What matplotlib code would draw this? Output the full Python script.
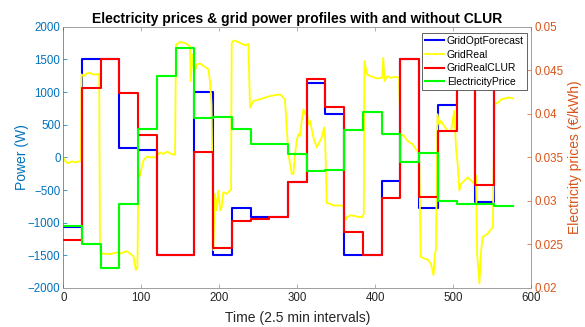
import numpy as np
import matplotlib
matplotlib.use('Agg')
import matplotlib.pyplot as plt
from matplotlib.ticker import FormatStrFormatter

plt.rcParams['font.family'] = ['Liberation Sans', 'DejaVu Sans']

# hourly values (24 steps of 24 x 2.5 min)
hour_edges = np.arange(0, 577, 24)
grid_opt_forecast = [-1060, 1500, 1500, 137, 112, -1500, -1500, 1005, -1500, -777, -914, -914,
                     -370, 1142, 660, -1500, -1500, -355, 1500, -777, 797, 1500, -685, 1500]
grid_real_clur = [-1269, 1066, 1510, 990, 340, -1500, -1500, 76, -1386, -980, -940, -920,
                  -370, 1203, 771, -1147, -1500, -624, 1510, -609, 396, 1510, -416, 1510]
electricity_price = [0.0271, 0.0250, 0.0223, 0.0297, 0.0383, 0.0443, 0.0476, 0.0395,
                     0.0396, 0.0382, 0.0365, 0.0365, 0.0354, 0.0334, 0.0335, 0.0381,
                     0.0402, 0.0377, 0.0345, 0.0355, 0.0300, 0.0297, 0.0297, 0.0294]

real_t = [0, 2, 6, 11, 15, 21, 22.5, 23.5, 26, 30, 34, 38.5, 43, 46, 47, 49, 60, 68, 73, 81,
          85.5, 88, 90, 93, 95, 96.2, 98.3, 102.6, 106.8, 111, 117.5, 124, 128, 132.5, 141,
          143.2, 144.4, 149.6, 156, 160.3, 162.4, 163.2, 165.8, 168, 170.9, 175, 181.6, 186,
          188, 190, 192.3, 194.4, 196.6, 198.7, 201, 203, 205, 209.4, 213.7, 215, 215.8, 218,
          220, 226.5, 233, 237.2, 239.3, 243.6, 252, 265, 278, 284, 288.5, 292.7, 294.9, 297,
          299.1, 301.3, 303.4, 305.6, 307.7, 309.8, 312, 314.1, 316.2, 320.5, 324.8, 326.9,
          331.2, 334.2, 335.5, 337.6, 342, 346, 351, 357, 359.3, 361.5, 363.6, 368, 374.4,
          378.7, 383, 385.1, 385.9, 389.3, 393.6, 402.3, 408.7, 410, 411.7, 415.2, 419.5, 426,
          430.2, 432.3, 436.6, 441, 447.4, 451.7, 453.8, 456, 458.1, 462.4, 466.7, 471, 474.5,
          476.2, 477.5, 479.6, 481.8, 484, 488, 492.5, 497, 499, 501, 503.2, 505.4, 507.5,
          509.7, 514, 518.3, 522.6, 526.9, 529, 530.3, 533.3, 535.5, 537.6, 544, 550.5, 552.7,
          557, 561.3, 570, 576]
real_p = [0, -51, -91, -61, -76, -61, -50, 1269, 1244, 1284, 1294, 1269, 1269, 1279, -1472,
          -1472, -1482, -1457, -1472, -1437, -1472, -1497, -1520, -1726, -1680, -305, -279,
          -51, 10, 0, 0, 76, 51, 86, 41, 41, 1726, 1766, 1751, 1716, 1700, 1167, 1574, 1300,
          1421, 1437, 1386, 1345, 1167, 812, -1421, -558, -812, -508, -812, -761, -533, -558,
          -508, -500, 1751, 1787, 1787, 1751, 1716, 1736, 761, 863, 888, 939, 964, 888, 51,
          -254, -254, 51, 254, 355, 330, 558, 736, 660, 711, 508, 558, 305, 152, 203, 305, 457,
          305, -700, -711, -737, -737, -737, -761, -964, -914, -888, -900, -914, -914, -863,
          1472, 1269, 1244, 1208, 1218, 1523, 1167, 1244, 1218, 1233, 1218, 355, 330, 254, 203,
          127, 102, 51, -1523, -1548, -1563, -1624, -1802, -1472, -1421, 660, 508, 558, 482,
          406, 406, 558, 711, 152, -102, -508, -406, -355, -305, -355, -406, -279, -1472,
          -1929, -1421, -1218, -1167, -1066, 812, 837, 888, 914, 904]

c_left = '#0072BD'
c_right = '#D95319'
c_axis = '#262626'


def steps(vals):
    return np.append(vals, vals[-1])


fig = plt.figure(figsize=(5.85, 3.27), dpi=100)
ax = fig.add_axes([0.1082, 0.1193, 0.8003, 0.7990])
ax2 = ax.twinx()

l1, = ax.step(hour_edges, steps(grid_opt_forecast), where='post', color='#0000FF', lw=1.5,
              label='GridOptForecast')
l2, = ax.plot(real_t, real_p, color='#FFFF00', lw=1.3, label='GridReal')
l3, = ax.step(hour_edges, steps(grid_real_clur), where='post', color='#FF0000', lw=1.5,
              label='GridRealCLUR')
l4, = ax2.step(hour_edges, steps(electricity_price), where='post', color='#00FF00', lw=1.5,
               label='ElectricityPrice')

ax.set_xlim(0, 600)
ax.set_ylim(-2000, 2000)
ax2.set_ylim(0.02, 0.05)
ax.set_xticks(np.arange(0, 601, 100))
ax.set_yticks(np.arange(-2000, 2001, 500))
ax2.set_yticks(np.arange(0.02, 0.0501, 0.005))
ax2.yaxis.set_major_formatter(FormatStrFormatter('%g'))

ax.tick_params(axis='x', direction='in', length=3, width=0.5, top=True, colors='#909090',
               labelcolor=c_axis, labelsize=8.3, pad=3)
ax.tick_params(axis='y', direction='in', length=3, width=0.5, colors=c_left, labelsize=8.3,
               pad=2)
ax2.tick_params(axis='y', direction='in', length=3, width=0.5, colors=c_right, labelsize=8.3,
                pad=2)

for a in (ax, ax2):
    a.spines['top'].set_color('#A0A0A0')
    a.spines['bottom'].set_color('#A0A0A0')
    a.spines['top'].set_linewidth(0.6)
    a.spines['bottom'].set_linewidth(0.6)
    a.spines['left'].set_color(c_left)
    a.spines['right'].set_color(c_right)
    a.spines['left'].set_linewidth(0.6)
    a.spines['right'].set_linewidth(0.6)
    a.spines['left'].set_alpha(0.5)
    a.spines['right'].set_alpha(0.5)

ax.set_xlabel('Time (2.5 min intervals)', fontsize=10, color=c_axis, labelpad=5)
ax.set_ylabel('Power (W)', fontsize=10, color=c_left, labelpad=-1)
ax2.set_ylabel('Electricity prices (€/kWh)', fontsize=10, color=c_right, labelpad=3)
ax.set_title('Electricity prices & grid power profiles with and without CLUR',
             fontsize=10, fontweight='bold', color='black', pad=3)

leg = ax2.legend(handles=[l1, l2, l3, l4], loc='upper right', bbox_to_anchor=(0.99, 0.976),
                 borderaxespad=0, fontsize=7.5, frameon=True, fancybox=False, framealpha=1,
                 edgecolor=c_axis, borderpad=0.3, labelspacing=0.35, handlelength=1.8,
                 handletextpad=0.3)
leg.get_frame().set_linewidth(0.5)

fig.savefig('out.png', dpi=100)
